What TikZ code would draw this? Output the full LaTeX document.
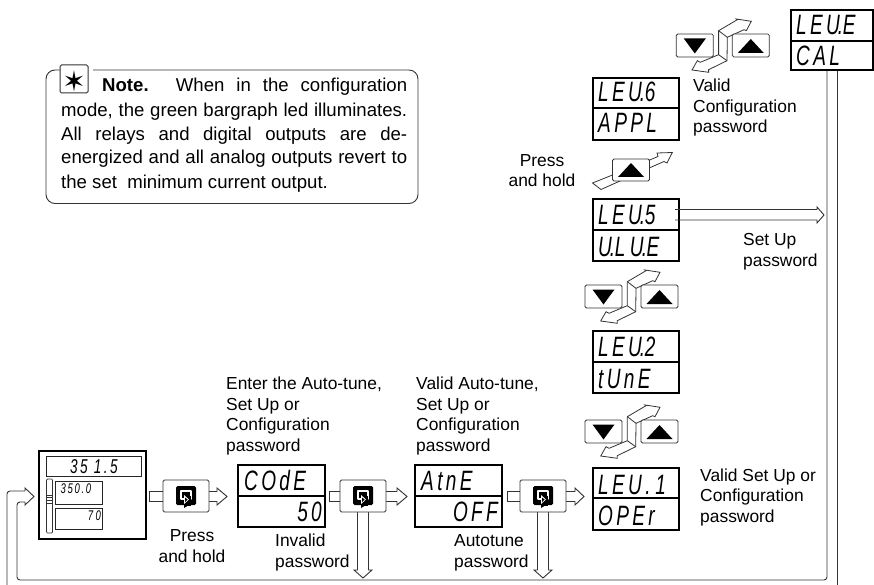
\documentclass[tikz,border=0pt]{standalone}
\usepackage{fontspec}
\setmainfont{Liberation Sans}
\newfontfamily\segfont[LetterSpace=12,FakeStretch=0.68]{Liberation Sans}
\newcommand{\lbl}{\fontsize{17.4}{20.5}\selectfont}
\newcommand{\notefont}{\fontsize{18.6}{24}\selectfont}
\newcommand{\dt}{\kern-2pt.\kern-.5pt}
\tikzset{
  x=1pt,y=-1pt,
  lab/.style={inner sep=0pt,anchor=base west,align=left,font=\lbl},
  notelab/.style={inner sep=0pt,anchor=base west,font=\notefont},
  led/.style={draw=black,line width=1.6pt,fill=white},
  ln/.style={draw=black!80,line width=.9pt},
  seg/.style={inner sep=0pt,anchor=base west,font=\segfont\itshape\fontsize{28}{28}\selectfont},
  segr/.style={seg,anchor=base east},
  key/.style={draw=black!80,line width=.8pt,rounded corners=1.5pt,fill=white},
  tri/.style={fill=black,draw=none},
}
\newcommand{\panel}[6]{% name x1 y1 x2 ymid y2
  \coordinate (#1) at (#2,#3);
  \draw[led] (#2,#3) rectangle (#4,#6);
  \draw[line width=1.6pt] (#2,#5) -- (#4,#5);}
\newcommand{\enter}[3]{% name, cx, cy
  \node[key,minimum width=46pt,minimum height=32pt,inner sep=0pt] (#1) at (#2,#3) {};
  \begin{scope}[shift={(#2,#3)}]
  \fill[black,rounded corners=1.5pt] (-10,-10) rectangle (10,9);
  \draw[white,line width=1.5pt,line join=round] (-1,3) -- (-5,3) -- (-5,-5) -- (5,-5) -- (5,3) -- (3,3);
  \fill[black] (-1,0) rectangle (5,10);
  \fill[white] (-2,-1) -- (-2,8) -- (3,3.5) -- cycle;
  \fill[black] (-1,1.5) -- (-1,6) -- (1.6,3.5) -- cycle;
  \fill[black] (-2,9) -- (-2,12) -- (3,9) -- cycle;
  \end{scope}}
\newcommand{\uptri}[2]{\fill[tri] (#1-13,#2+7) -- (#1,#2-7) -- (#1+13,#2+7) -- cycle;}
\newcommand{\dntri}[2]{\fill[tri] (#1-11,#2-7) -- (#1+11,#2-7) -- (#1,#2+8) -- cycle;}
\newcommand{\rocker}[2]{%
  \begin{scope}[shift={(#1,#2)}]
  \draw[ln,line width=.8pt,line join=miter,fill=white] (627.3,281.7) -- (646,270.7) -- (645,270) -- (660,272.3) -- (655,281.7) -- (652.7,280.7) -- (636,288.3) -- (635.7,311.7) -- (617.3,320.7) -- (617.3,323.3) -- (600.7,321) -- (606,311.7) -- (609,313.3) -- (627.3,305.7) -- cycle;
  \draw[ln,line width=.8pt] (627.3,281.7) -- (636,288.3) (627.3,305.7) -- (635.7,311.7);
  \node[key,minimum width=37pt,minimum height=23pt,inner sep=0pt] at (603.5,296.5) {};
  \node[key,minimum width=37pt,minimum height=23pt,inner sep=0pt] at (659.5,296.5) {};
  \dntri{603.5}{296.5}
  \uptri{659.5}{297}
  \end{scope}}
\begin{document}
\begin{tikzpicture}
\useasboundingbox (0,0) rectangle (874,585);
% feedback lines
\draw[ln,rounded corners=3pt] (827,71) -- (827,580) -- (17,580) -- (17,502) -- (25,502);
\draw[ln] (837,71) -- (837,585);
\draw[ln,rounded corners=3pt] (7,585) -- (7,491) -- (25,491);
\draw[ln,line join=miter] (25,491) -- (25,488) -- (34,496.5) -- (25,505) -- (25,502);
% main display
\draw[led,line width=1.5pt] (39,451) rectangle (146,539);
\node[draw=black!85,line width=.8pt,inner sep=0pt,minimum width=95pt,minimum height=20pt] (pv) at (93.5,466) {};
\node[draw=black!85,line width=.8pt,inner sep=0pt,minimum width=47pt,minimum height=23pt] (sp) at (78.5,492.5) {};
\node[draw=black!85,line width=.8pt,inner sep=0pt,minimum width=47pt,minimum height=21pt] (op) at (78.5,518.5) {};
\draw[ln,line width=.7pt,rounded corners=1pt] (46.5,479) rectangle (52.5,533);
\draw[ln,line width=.7pt] (46.5,495) -- (52.5,495) (46.5,497.5) -- (52.5,497.5) (46.5,500) -- (52.5,500) (46.5,503) -- (52.5,503);
\node[seg,font=\segfont\itshape\fontsize{20}{20}\selectfont] at (70,473) {35 1.5};
\node[seg,font=\segfont\itshape\fontsize{14}{14}\selectfont] at (60.5,493) {350.0};
\node[segr,font=\segfont\itshape\fontsize{14}{14}\selectfont] at (101,520) {7\,0};
% enter keys with arrows
\draw[ln,fill=white] (149,491.5) rectangle (165,501.5);
\draw[ln,fill=white,line join=miter] (206,491.5) -- (217,491.5) -- (217,488) -- (227,496.5) -- (217,505) -- (217,501.5) -- (206,501.5);
\enter{k1}{186}{496}
\draw[ln,fill=white] (329,491.5) rectangle (342,501.5);
\draw[ln,fill=white,line join=miter] (384,491.5) -- (397,491.5) -- (397,488) -- (407,496.5) -- (397,505) -- (397,501.5) -- (384,501.5);
\draw[ln,fill=white,line join=miter] (357.5,510) -- (357.5,570) -- (354,570) -- (363,578) -- (372,570) -- (368.5,570) -- (368.5,510);
\enter{k2}{363}{496}
\draw[ln,fill=white] (507,491.5) rectangle (522,501.5);
\draw[ln,fill=white,line join=miter] (564,491.5) -- (575,491.5) -- (575,488) -- (584,496.5) -- (575,505) -- (575,501.5) -- (564,501.5);
\draw[ln,fill=white,line join=miter] (537.5,510) -- (537.5,570) -- (534,570) -- (543,578) -- (552,570) -- (548.5,570) -- (548.5,510);
\enter{k3}{543}{496}
% LED panels
\panel{code}{238}{465}{325}{496}{527}
\node[seg] (t1) at (244,490) {COdE};
\node[segr] (t2) at (322,521) {50};
\panel{atne}{415}{465}{502}{496}{527}
\node[seg] (t3) at (421,490) {AtnE};
\node[segr] (t4) at (498,521) {OFF};
\panel{lev1}{593}{468}{679}{498}{530}
\node[seg] (t5) at (598,494) {LEU.\,1};
\node[seg] (t6) at (598,525) {OPEr};
\panel{lev2}{593}{331}{679}{362}{393}
\node[seg] (t7) at (598,356) {LEU\dt2};
\node[seg] (t8) at (598,388) {tUnE};
\panel{lev5}{593}{199}{679}{230}{261}
\node[seg] (t9) at (598,225) {LEU\dt5};
\node[seg] (t10) at (598,256) {U\dt L\,U\dt E};
\panel{lev6}{593}{78}{679}{108}{140}
\node[seg] (t11) at (598,102) {LEU\dt6};
\node[seg] (t12) at (598,133) {APPL};
\panel{leve}{791}{10}{873.2}{41}{70}
\node[seg] (t13) at (796,35) {LEU\dt E};
\node[seg] (t14) at (796,66) {CAL};
% set up arrow
\draw[ln,line join=miter] (675,209.5) -- (817,209.5) -- (817,207) -- (824,215) -- (817,223) -- (817,220) -- (675,220);
% rockers
\rocker{0}{0}
\rocker{0}{135}
\rocker{91.3}{-251}
% press & hold arrow
\draw[ln,line width=.8pt,line join=miter,fill=white] (592.5,183) -- (640,164) -- (658,156.5) -- (657,153) -- (672.3,152.5) -- (667,163) -- (664,161.5) -- (640,172) -- (601,189.5) -- cycle;
\node[key,minimum width=37pt,minimum height=22pt,inner sep=0pt] (hold) at (631,170) {};
\uptri{631}{170}
% note
\draw[ln,rounded corners=9pt] (93,70) -- (418,70) -- (418,203.5) -- (46,203.5) -- (46,70) -- (60,70);
\node[key,minimum width=28pt,minimum height=28pt,inner sep=0pt,line width=1pt] (star) at (74,79) {};
\node[font=\fontsize{28}{28}\selectfont,inner sep=0pt] at (74,81) {\fontspec{DejaVu Sans}\symbol{"2736}};
\node[notelab] at (102,92) {\makebox[305pt][s]{\textbf{Note.} When in the configuration}};
\node[notelab] at (61,117) {\makebox[346pt][s]{mode, the green bargraph led illuminates.}};
\node[notelab] at (61,141) {\makebox[346pt][s]{All relays and digital outputs are de-}};
\node[notelab] at (61,164) {\makebox[346pt][s]{energized and all analog outputs revert to}};
\node[notelab] at (61,189) {the set\ \ minimum current output.};
% labels
\node[lab] at (226,451) {Enter the Auto-tune,\\Set Up or\\Configuration\\password};
\node[lab] at (416,451) {Valid Auto-tune,\\Set Up or\\Configuration\\password};
\node[lab,align=center,anchor=base] at (192,562) {Press\\and hold};
\node[lab] at (275,567) {Invalid\\password};
\node[lab] at (454,567) {Autotune\\password};
\node[lab] at (700,522) {Valid Set Up or\\Configuration\\password};
\node[lab] at (743,266) {Set Up\\password};
\node[lab] at (693,133) {Valid\\Configuration\\password};
\node[lab,align=center,anchor=base] at (542,187) {Press\\and hold};
\end{tikzpicture}
\end{document}
